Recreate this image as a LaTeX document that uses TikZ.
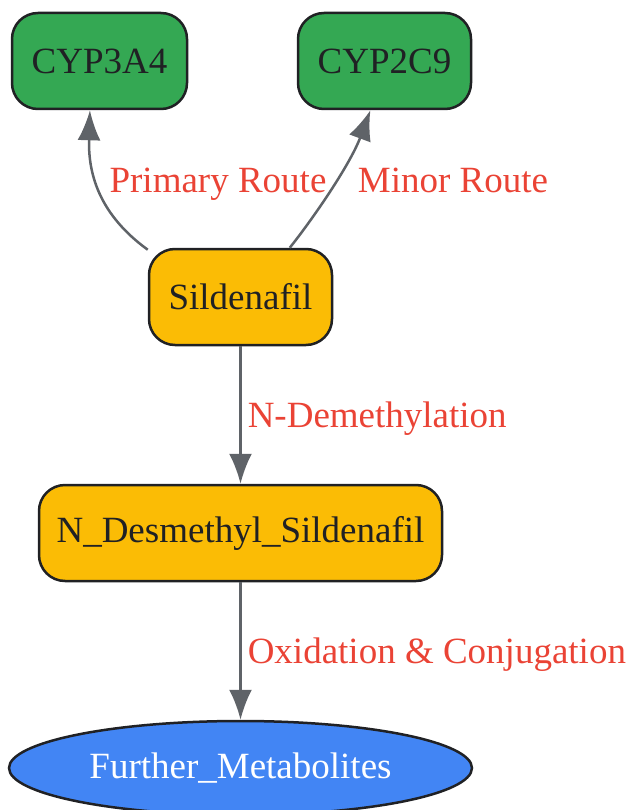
\documentclass[tikz,border=0pt]{standalone}
\usepackage{fontspec}
\setmainfont{Liberation Serif}
\usepackage{tikz}
\usetikzlibrary{arrows.meta,shapes.geometric,calc,positioning}
\usepackage{xcolor}
\definecolor{gglgreen}{HTML}{34A853}
\definecolor{gglyellow}{HTML}{FBBC05}
\definecolor{gglblue}{HTML}{4285F4}
\definecolor{gglred}{HTML}{EA4335}
\definecolor{gglgray}{HTML}{5F6368}
\definecolor{ggltext}{HTML}{202124}
\newcommand{\myunit}{1pt}
\tikzset{
    boxsty/.style={draw=ggltext,line width=2.5pt,rectangle,rounded corners=26pt,minimum height=96pt,text=ggltext,font=\fontsize{37}{44}\selectfont,anchor=center},
    gcsty/.style={boxsty,fill=gglgreen},
    ycsty/.style={boxsty,fill=gglyellow},
    elsty/.style={draw=ggltext,line width=2.5pt,ellipse,fill=gglblue,text=white,minimum width=463pt,minimum height=94pt,inner sep=0pt,font=\fontsize{37}{44}\selectfont},
    edgsty/.style={draw=gglgray,line width=2.5pt,-{Latex[length=30pt,width=23pt]}},
    lblsty/.style={text=gglred,font=\fontsize{37}{44}\selectfont,inner sep=6pt,text height=25pt,text depth=8pt},
}

\begin{document}
\begin{tikzpicture}[x=\myunit,y=\myunit]
  \useasboundingbox (0,0) rectangle (630,-810);

  \node[gcsty,minimum width=175pt] (cyp3a4) at (99.5,-61) {CYP3A4};
  \node[gcsty,minimum width=173pt] (cyp2c9) at (384.5,-61) {CYP2C9};
  \node[ycsty,minimum width=183pt] (sil) at (240.5,-297) {Sildenafil};
  \node[ycsty,minimum width=403pt] (ndes) at (240.5,-533) {N\_Desmethyl\_Sildenafil};
  \node[elsty] (meta) at (240.5,-768) {Further\_Metabolites};

  \draw[edgsty] (sil.153) .. controls (100,-215) and (88,-175) .. (cyp3a4.259);
  \draw[edgsty] (sil.45) .. controls (312,-220) and (350,-165) .. (cyp2c9.254);
  \node[lblsty] (prim) at (218,-184) {Primary Route};
  \node[lblsty] (minr) at (453,-184) {Minor Route};

  \draw[edgsty] (sil) -- node[lblsty,right,yshift=-4pt]{N-Demethylation} (ndes);
  \draw[edgsty] (ndes) -- node[lblsty,right,yshift=-4pt]{Oxidation \& Conjugation} (meta);
\end{tikzpicture}
\end{document}
